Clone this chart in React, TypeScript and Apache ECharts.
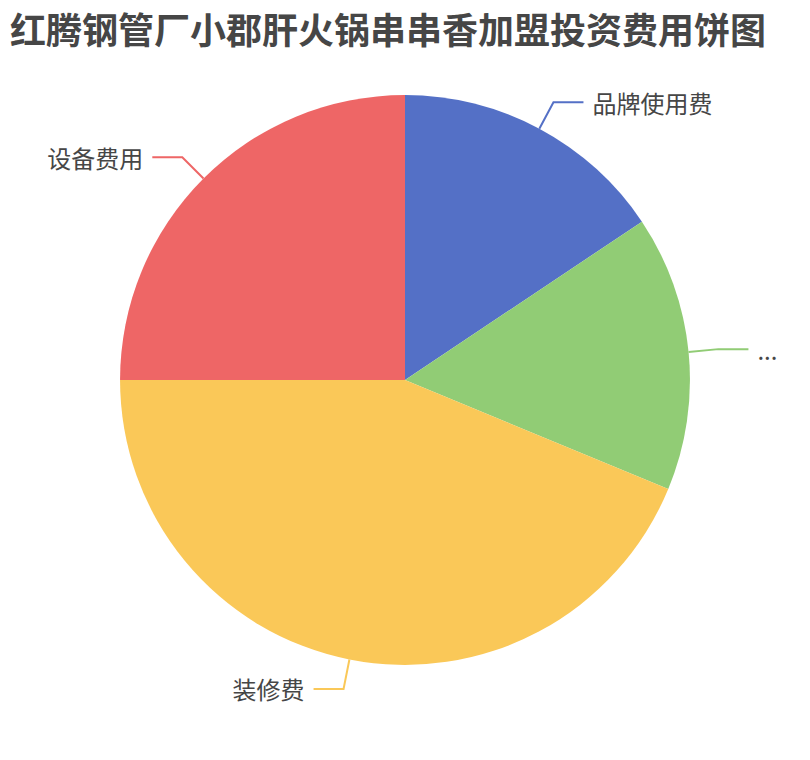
import React, { useEffect, useRef } from 'react';
import * as echarts from 'echarts';

const titleText = '红腾钢管厂小郡肝火锅串串香加盟投资费用饼图';
const categories = ['品牌使用费', '加盟费', '装修费', '设备费用'];
const values = [5, 5, 14, 8];
const colors = ['#5470c6', '#91cc75', '#fac858', '#ee6666'];

const App: React.FC = () => {
    const chartRef = useRef<HTMLDivElement>(null);

    useEffect(() => {
        if (!chartRef.current) return;
        const chart = echarts.init(chartRef.current, undefined, { renderer: 'svg' });

        const option: echarts.EChartsOption = {
            animation: false,
            color: colors,
            title: {
                text: titleText,
                left: -3,
                top: -3,
                textStyle: {
                    fontSize: 36,
                    fontWeight: 'bold',
                    color: '#464646',
                    fontFamily: 'Noto Sans CJK SC',
                },
            },
            series: [
                {
                    type: 'pie',
                    radius: '76.6%',
                    center: ['50%', '50%'],
                    data: categories.map((name, i) => ({ name, value: values[i] })),
                    label: {
                        fontSize: 24,
                        color: '#464646',
                        fontFamily: 'Noto Sans CJK SC',
                        distanceToLabelLine: 9,
                    },
                    labelLine: {
                        length: 30,
                        length2: 30,
                        lineStyle: { width: 2 },
                    },
                },
            ],
        };

        chart.setOption(option);
        return () => chart.dispose();
    }, []);

    return <div ref={chartRef} style={{ width: 794, height: 744 }} />;
};

export default App;
